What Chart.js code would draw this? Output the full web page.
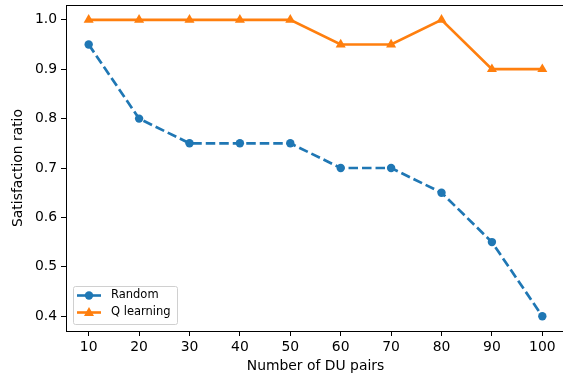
<!DOCTYPE html>
<html><head><meta charset="utf-8">
<script src="https://cdn.jsdelivr.net/npm/chart.js@4/dist/chart.umd.min.js"></script>
<style>html,body{margin:0;padding:0;overflow:hidden;background:#fff;width:563px;height:377px}canvas{display:block}</style>
</head><body>
<canvas id="c" width="566" height="377" style="width:566px;height:377px"></canvas>
<script>
const duPairs = [10, 20, 30, 40, 50, 60, 70, 80, 90, 100];
const randomRatio = [0.95, 0.80, 0.75, 0.75, 0.75, 0.70, 0.70, 0.65, 0.55, 0.40];
const qLearningRatio = [1.0, 1.0, 1.0, 1.0, 1.0, 0.95, 0.95, 1.0, 0.90, 0.90];
const yTicks = [0.4, 0.5, 0.6, 0.7, 0.8, 0.9, 1.0];
const seriesNames = ['Random', 'Q learning'];
const blue = '#1f77b4', orange = '#ff7f0e';
const FONT = 'DejaVu Sans';

const framePlugin = {
  id: 'frame',
  afterDraw(chart) {
    const {ctx, chartArea: a} = chart;
    ctx.save();
    ctx.strokeStyle = '#000';
    ctx.lineWidth = 1;
    ctx.strokeRect(Math.round(a.left) + 0.5, Math.round(a.top) + 0.5, Math.round(a.right - a.left), Math.round(a.bottom - a.top));
    // legend
    const x0 = 73, y0 = 286, w = 104, h = 38;
    ctx.fillStyle = 'rgba(255,255,255,0.8)';
    ctx.strokeStyle = '#d0d0d0';
    ctx.lineWidth = 1;
    ctx.beginPath();
    ctx.roundRect(x0 + 0.5, y0 + 0.5, w, h, 2);
    ctx.fill(); ctx.stroke();
    const rows = [
      {name: seriesNames[0], color: blue, y: 295.5, marker: 'circle'},
      {name: seriesNames[1], color: orange, y: 312.5, marker: 'triangle'}
    ];
    rows.forEach(r => {
      ctx.strokeStyle = r.color; ctx.fillStyle = r.color; ctx.lineWidth = 2.6;
      ctx.setLineDash([]);
      ctx.beginPath(); ctx.moveTo(77, r.y); ctx.lineTo(101, r.y); ctx.stroke();
      ctx.beginPath();
      if (r.marker === 'circle') { ctx.arc(89, r.y, 4.2, 0, Math.PI * 2); }
      else { ctx.moveTo(89, r.y - 5.5); ctx.lineTo(94, r.y + 3.5); ctx.lineTo(84, r.y + 3.5); ctx.closePath(); }
      ctx.fill();
      ctx.fillStyle = '#000';
      ctx.font = '11.5px "' + FONT + '"';
      ctx.textBaseline = 'middle';
      ctx.fillText(r.name, 111, r.y);
    });
    ctx.restore();
  }
};

new Chart(document.getElementById('c'), {
  type: 'line',
  data: {
    datasets: [
      {
        label: seriesNames[0],
        data: duPairs.map((x, i) => ({x, y: randomRatio[i]})),
        borderColor: blue, backgroundColor: blue,
        borderWidth: 2.7, borderDash: [9.5, 4],
        pointStyle: 'circle', pointRadius: 4.2, pointBorderWidth: 0,
        tension: 0
      },
      {
        label: seriesNames[1],
        data: duPairs.map((x, i) => ({x, y: qLearningRatio[i]})),
        borderColor: orange, backgroundColor: orange,
        borderWidth: 2.7,
        pointStyle: 'triangle', pointRadius: 5.8, pointBorderWidth: 0,
        tension: 0
      }
    ]
  },
  options: {
    responsive: false,
    animation: false,
    devicePixelRatio: 1,
    layout: {autoPadding: false, padding: {top: 5, right: 1, left: 0, bottom: 0}},
    plugins: {legend: {display: false}, tooltip: {enabled: false}},
    scales: {
      x: {
        type: 'linear', min: 5.5, max: 104.5,
        afterBuildTicks: s => { s.ticks = duPairs.map(v => ({value: v})); },
        afterFit: s => { s.height = 46; s.paddingLeft = 0; s.paddingRight = 0; },
        grid: {drawOnChartArea: false, drawTicks: true, tickLength: 5, color: '#000', tickWidth: 1},
        border: {display: true, color: '#000', width: 1},
        ticks: {color: '#000', font: {family: FONT, size: 13.9}, padding: 3, maxRotation: 0},
        title: {display: true, text: 'Number of DU pairs', color: '#000', font: {family: FONT, size: 13.9}, padding: {top: 0, bottom: 2}}
      },
      y: {
        type: 'linear', min: 0.37, max: 1.03,
        afterBuildTicks: s => { s.ticks = yTicks.map(v => ({value: v})); },
        afterFit: s => { s.width = 66; s.paddingTop = 0; s.paddingBottom = 0; },
        grid: {drawOnChartArea: false, drawTicks: true, tickLength: 5, color: '#000', tickWidth: 1},
        border: {display: true, color: '#000', width: 1},
        ticks: {color: '#000', font: {family: FONT, size: 13.9}, padding: 4, callback: v => v.toFixed(1)},
        title: {display: true, text: 'Satisfaction ratio', color: '#000', font: {family: FONT, size: 13.9}, padding: {top: 10, bottom: 2}}
      }
    }
  },
  plugins: [framePlugin]
});
</script>
</body></html>
